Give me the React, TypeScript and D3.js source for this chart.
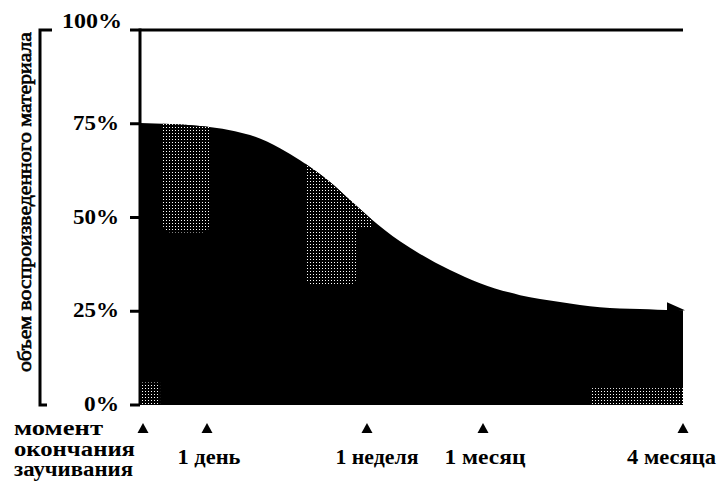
import React from "react";
import * as d3 from "d3";

// Time axis in relative units (0 = end of learning, 100 = 4 months)
const curveX = [0, 11.05, 16.57, 20.26, 25.78, 29.47, 34.99, 38.67, 42.36, 47.88, 51.57, 57.09, 62.62, 70.0, 77.35, 84.7, 92.08, 98.5, 100];
const curveY = [75.2, 74.4, 73.3, 72.0, 68.5, 65.3, 59.5, 54.7, 49.9, 43.7, 40.3, 36.0, 32.5, 29.3, 27.5, 26.1, 25.6, 25.3, 25.3];

const yTicks = [0, 25, 50, 75, 100];
const yTickLabels = ["0%", "25%", "50%", "75%", "100%"];

const markerX = [0.55, 12.34, 41.8, 63.17, 100];
const markerLabels = ["", "1 день", "1 неделя", "1 месяц", "4 месяца"];
const startLabel = ["момент", "окончания", "заучивания"];

// shaded (reminiscence) zones: [x0, x1, yBottom, yTop]
const zoneX0 = [4.2, 30.4, 39.8, 0, 83.0];
const zoneX1 = [12.9, 39.9, 42.6, 3.7, 100];
const zoneYBottom = [46, 32, 47, 0, 0];
const zoneYTop = [100, 100, 100, 6, 4.5];

const yTitle = "объем воспроизведенного материала";

const W = 719, H = 486;
const L = 140, R = 683, T = 30, B = 405;

const tickLabelWidth = [35, 46, 46, 46, 60];
const markerLabelWidth = [0, 63, 83, 81, 89];
const startLabelWidth = [89, 121, 119];

export default function App() {
  const x = d3.scaleLinear().domain([0, 100]).range([L, R]);
  const y = d3.scaleLinear().domain([0, 100]).range([B, T]);
  const pts: [number, number][] = curveX.map((v, i) => [v, curveY[i]]);
  const area = d3.area<[number, number]>()
    .x(d => x(d[0]))
    .y0(y(0))
    .y1(d => y(d[1]))
    .curve(d3.curveMonotoneX);
  const areaPath = area(pts) || "";
  const last = pts[pts.length - 1];
  const ax = x(last[0]), ay = y(last[1]);

  return (
    <svg width={W} height={H} style={{ display: "block", position: "absolute", left: 0, top: 0, background: "#fff" }}>
      <defs>
        <pattern id="stip" width="3" height="3" patternUnits="userSpaceOnUse">
          <rect width="3" height="3" fill="#000" />
          <rect x="1" y="1" width="1" height="1" fill="#fff" />
        </pattern>
        <clipPath id="under">
          <path d={areaPath} />
        </clipPath>
      </defs>

      {/* filled area */}
      <path d={areaPath} fill="#000" />
      <g clipPath="url(#under)">
        {zoneX0.map((x0, i) => (
          <rect key={i}
            x={x(x0)} width={x(zoneX1[i]) - x(x0)}
            y={y(zoneYTop[i])} height={y(zoneYBottom[i]) - y(zoneYTop[i])}
            rx={i < 2 ? 8 : 0}
            fill="url(#stip)" />
        ))}
      </g>
      {/* arrowhead at the end of curve */}
      <polygon points={`${ax - 16},${ay - 8} ${ax + 2},${ay} ${ax - 16},${ay + 2}`} fill="#000" />

      {/* top line */}
      <line x1={L - 10} x2={R} y1={y(100)} y2={y(100)} stroke="#000" strokeWidth={3} />
      {/* inner axis */}
      <line x1={L} x2={L} y1={y(100) - 1.5} y2={y(0)} stroke="#000" strokeWidth={3} />
      {yTicks.slice(0, 4).map(t => (
        <line key={t} x1={L - 10} x2={L} y1={y(t)} y2={y(t)} stroke="#000" strokeWidth={3} />
      ))}
      {/* outer axis */}
      <path d={`M52,${y(100)} H40 V${y(0)} H47`} fill="none" stroke="#000" strokeWidth={3} />

      {/* y tick labels */}
      {yTicks.map((t, i) => (
        <text key={t} x={t === 100 ? 122 : 119} y={t === 100 ? y(t) - 2 : y(t) + 6}
          textAnchor="end" fontFamily="Liberation Serif" fontWeight="bold" fontSize={22}
          textLength={tickLabelWidth[i]} lengthAdjust="spacingAndGlyphs">
          {yTickLabels[i]}
        </text>
      ))}

      {/* y title */}
      <text transform={`translate(31,${(32 + 372) / 2}) rotate(-90)`} textAnchor="middle"
        fontFamily="Liberation Serif" fontSize={18.5} textLength={340} lengthAdjust="spacingAndGlyphs"
        stroke="#000" strokeWidth={0.6}>
        {yTitle}
      </text>

      {/* markers */}
      {markerX.map((m, i) => (
        <g key={i}>
          <path d={`M${x(m)},${423} L${x(m) + 5.5},${433} L${x(m) - 5.5},${433} Z`} fill="#000" />
          {markerLabels[i] && (
            <text x={i === markerX.length - 1 ? W - 3 : x(m) + 2 + (i === 2 ? 8 : 0)} y={464}
              textAnchor={i === markerX.length - 1 ? "end" : "middle"}
              fontFamily="Liberation Serif" fontWeight="bold" fontSize={21}
              textLength={markerLabelWidth[i]} lengthAdjust="spacingAndGlyphs">
              {markerLabels[i]}
            </text>
          )}
        </g>
      ))}
      {startLabel.map((s, i) => (
        <text key={s} x={14} y={435 + i * 20.5} fontFamily="Liberation Serif" fontWeight="bold" fontSize={20}
          textLength={startLabelWidth[i]} lengthAdjust="spacingAndGlyphs">
          {s}
        </text>
      ))}
    </svg>
  );
}
